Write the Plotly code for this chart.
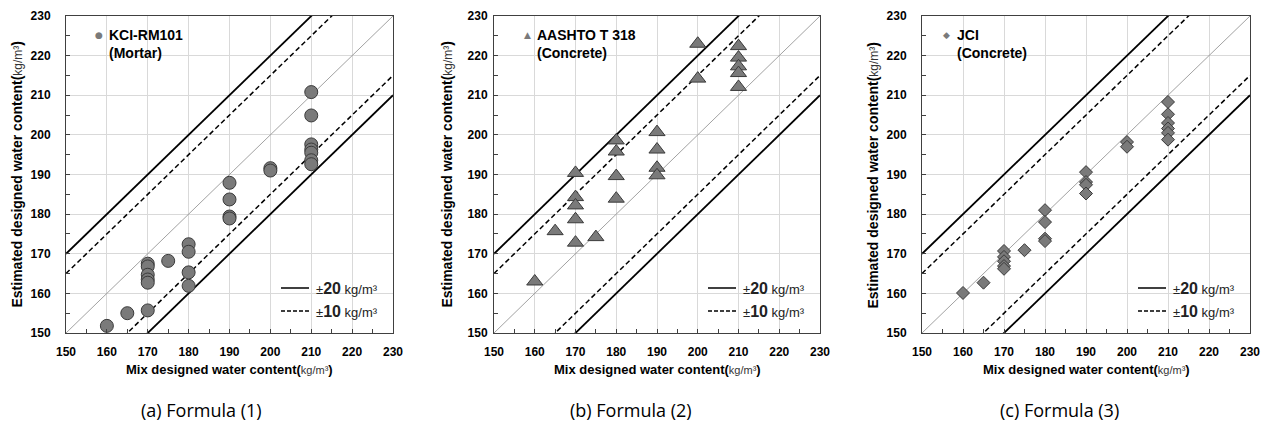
import plotly.graph_objects as go

# page body has an 8px default margin; figure is sized to fill the rest
OFF = 8
W, H = 1262, 417

# ---------------- data ----------------
# (a) KCI-RM101 (Mortar)
x_a = [160, 165, 170, 170, 170, 170, 170, 170, 175, 180, 180, 180, 180,
       190, 190, 190, 190, 200, 200, 210, 210, 210, 210, 210, 210, 210]
y_a = [151.8, 155.0, 167.5, 166.8, 164.7, 163.5, 162.7, 155.7, 168.2,
       172.4, 170.5, 165.3, 161.9, 187.9, 183.7, 179.4, 178.9, 191.6, 191.0,
       210.8, 204.9, 197.6, 196.3, 195.5, 193.6, 192.6]

# (b) AASHTO T 318 (Concrete)
x_b = [160, 165, 170, 170, 170, 170, 170, 175, 180, 180, 180, 180,
       190, 190, 190, 190, 200, 200, 210, 210, 210, 210, 210]
y_b = [163.0, 175.7, 190.4, 184.3, 182.2, 178.7, 172.8, 174.2,
       198.6, 195.8, 189.6, 183.9, 200.7, 196.3, 191.7, 189.8,
       223.0, 214.2, 222.4, 219.5, 217.3, 215.6, 212.1]

# (c) JCI (Concrete)
x_c = [160, 165, 170, 170, 170, 170, 170, 175, 180, 180, 180, 180,
       190, 190, 190, 190, 200, 200, 210, 210, 210, 210, 210, 210]
y_c = [160.1, 162.7, 170.7, 169.2, 168.1, 166.9, 166.2, 170.9,
       181.0, 178.0, 173.8, 173.2, 190.6, 188.1, 187.4, 185.2,
       198.2, 197.0, 208.3, 205.2, 203.0, 201.6, 200.5, 198.8]

series_names = ["KCI-RM101", "AASHTO T 318", "JCI"]
series_sub = ["(Mortar)", "(Concrete)", "(Concrete)"]
captions = ["(a) Formula (1)", "(b) Formula (2)", "(c) Formula (3)"]
band_labels = ["20", "10"]

# reference lines y = x + offset (as drawn in the picture)
line_x = [150, 230]
offsets = [20, 15, 0, -15, -20]
axis_ticks = [150, 160, 170, 180, 190, 200, 210, 220, 230]

# ---------------- layout geometry (window pixels) ----------------
panels_px = [(66, 393), (494, 820), (922, 1250)]
ytop_px, ybot_px = 16, 333
ytitle_px = [17, 447, 873]
yl_standoff = [12, 3, 12]
caption_px = [202, 631, 1059]

def px(x):
    return (x - OFF) / W

def py(y):
    return 1 - (y - OFF) / H

marker_defs = [
    dict(symbol="circle", size=13),
    dict(symbol="triangle-up", size=14),
    dict(symbol="diamond", size=10),
]
glyphs = ["●", "▲", "◆"]
xs = [x_a, x_b, x_c]
ys = [y_a, y_b, y_c]

fig = go.Figure()
FONT = "Liberation Sans, Arial, sans-serif"

line_styles = {
    20: dict(color="black", width=1.8, dash="solid"),
    15: dict(color="black", width=1.5, dash="5px,3px"),
    0: dict(color="#8a8a8a", width=0.8, dash="solid"),
    -15: dict(color="black", width=1.5, dash="5px,3px"),
    -20: dict(color="black", width=1.8, dash="solid"),
}

layout = dict(
    width=W, height=H,
    margin=dict(l=0, r=0, t=0, b=0),
    paper_bgcolor="white", plot_bgcolor="white",
    showlegend=False,
    font=dict(family=FONT, color="black"),
    template="none",
)

annotations = []
shapes = []

for i in range(3):
    sfx = "" if i == 0 else str(i + 1)
    xa, ya = "x" + sfx, "y" + sfx
    l, r = panels_px[i]
    for off in offsets:
        fig.add_trace(go.Scatter(
            x=line_x, y=[v + off for v in line_x], mode="lines",
            line=line_styles[off], xaxis=xa, yaxis=ya, hoverinfo="skip"))
    md = marker_defs[i]
    fig.add_trace(go.Scatter(
        x=xs[i], y=ys[i], mode="markers", xaxis=xa, yaxis=ya,
        marker=dict(symbol=md["symbol"], size=md["size"], color="#7a7a7a",
                    line=dict(color="#3a3a3a", width=1)),
        cliponaxis=False))

    common = dict(
        range=[150, 230], tickvals=axis_ticks,
        showgrid=True, gridcolor="#d9d9d9", gridwidth=1,
        showline=True, linecolor="#404040", linewidth=1, mirror=True,
        ticks="inside", ticklen=4, tickcolor="#404040",
        minor=dict(dtick=5, tick0=150, ticks="inside", ticklen=4,
                   tickcolor="#404040", showgrid=False),
        zeroline=False, automargin=False,
        tickfont=dict(family=FONT, size=12, color="black", weight="bold"),
    )
    layout["xaxis" + sfx] = dict(common, domain=[px(l), px(r)], anchor=ya,
                                 ticklabelstandoff=8)
    layout["yaxis" + sfx] = dict(common, domain=[py(ybot_px), py(ytop_px)],
                                 anchor=xa, ticklabelstandoff=yl_standoff[i])

    # x-axis title
    annotations.append(dict(
        x=px((l + r) / 2), y=py(369), xref="paper", yref="paper",
        xanchor="center", yanchor="middle", showarrow=False,
        text="<b>Mix designed water content(</b><span style='font-size:11px;color:#333'>kg/m³</span><b>)</b>",
        font=dict(family=FONT, size=13, color="black")))
    # y-axis title
    annotations.append(dict(
        x=px(ytitle_px[i]), y=py((ytop_px + ybot_px) / 2), xref="paper", yref="paper",
        xanchor="center", yanchor="middle", showarrow=False, textangle=-90,
        text="<b>Estimated designed water content(</b><span style='font-size:12px;color:#333'>kg/m³</span><b>)</b>",
        font=dict(family=FONT, size=14, color="black")))
    # caption
    annotations.append(dict(
        x=px(caption_px[i]), y=py(410), xref="paper", yref="paper",
        xanchor="center", yanchor="middle", showarrow=False,
        text=captions[i], font=dict(family="Open Sans, Noto Sans, sans-serif", size=18, color="black")))
    # series legend (top-left)
    gx = l + (33 if i < 2 else 25)
    annotations.append(dict(
        x=px(gx), y=py(35), xref="paper", yref="paper",
        xanchor="center", yanchor="middle", showarrow=False,
        text=glyphs[i], font=dict(family="DejaVu Sans", size=9, color="#7a7a7a")))
    annotations.append(dict(
        x=px(gx + 8), y=py(35), xref="paper", yref="paper",
        xanchor="left", yanchor="middle", showarrow=False,
        text="<b>" + series_names[i] + "</b>",
        font=dict(family=FONT, size=14, color="black")))
    annotations.append(dict(
        x=px(gx + 8), y=py(53), xref="paper", yref="paper",
        xanchor="left", yanchor="middle", showarrow=False,
        text="<b>" + series_sub[i] + "</b>",
        font=dict(family=FONT, size=14, color="black")))
    # line legend (bottom-right)
    for row_y, lab, dash in [(288, band_labels[0], "solid"), (311, band_labels[1], "4px,2px")]:
        shapes.append(dict(type="line", xref="paper", yref="paper",
                           x0=px(r - 112), x1=px(r - 84), y0=py(row_y), y1=py(row_y),
                           line=dict(color="black", width=1.5 if dash == "solid" else 1.3, dash=dash)))
        annotations.append(dict(
            x=px(r - 79), y=py(row_y), xref="paper", yref="paper",
            xanchor="left", yanchor="middle", showarrow=False,
            text="±<b><span style='font-size:16px'>" + lab + "</span></b> kg/m³",
            font=dict(family=FONT, size=13, color="#222")))

layout["annotations"] = annotations
layout["shapes"] = shapes
fig.update_layout(**layout)

fig.write_html("out.html")
